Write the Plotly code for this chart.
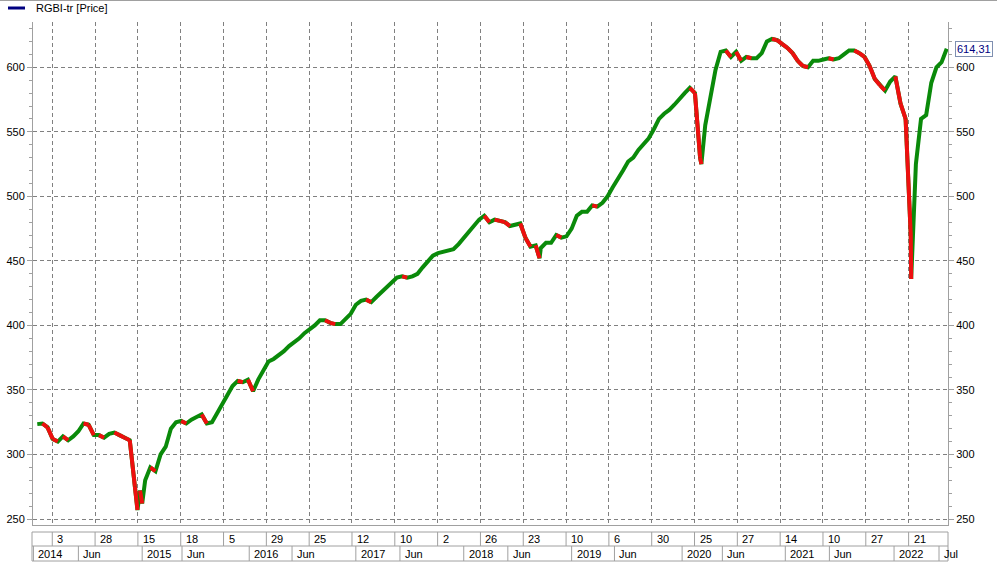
import plotly.graph_objects as go

# ---------------- data ----------------
# RGBI-tr closes, read every 12 trading bars (bar 0 = first bar, Jan 2014)
first_bar = 9
step = 12
close = [
    323.5, 324, 321, 312, 310, 314, 311, 314, 318, 324,
    323, 315, 315, 313, 316, 317, 315, 313, 311, 275,
    272, 280, 290, 287, 300, 306, 320, 325, 326, 324,
    327, 329, 331, 324, 325, 332, 339, 347, 353, 357,
    356, 358, 349, 358, 365, 372, 374, 377, 380, 384,
    387, 390, 394, 397, 400, 404, 404, 402, 401, 401,
    405, 409, 416, 419, 420, 418, 422, 426, 430, 434,
    437, 438, 437, 438, 440, 445, 450, 454, 456, 457,
    458, 459, 463, 468, 473, 478, 482, 485, 480, 482,
    481, 480, 477, 478, 479, 468, 461, 462, 460, 464,
    464, 470, 468, 469, 475, 485, 488, 488, 493, 492,
    495, 500, 507, 513, 520, 527, 530, 536, 541, 545,
    552, 560, 564, 567, 571, 576, 580, 584, 580, 530,
    555, 578, 598, 612, 613, 608, 612, 605, 608, 607,
    607, 611, 620, 622, 621, 618, 615, 611, 605, 601,
    600, 605, 605, 606, 607, 606, 607, 610, 613, 613,
    611, 608, 601, 591, 586, 582, 589, 593, 572, 560,
    470, 525, 560, 563, 588, 600, 604, 614.31,
]
bar = list(range(first_bar, first_bar + step * len(close), step))
# extreme daily lows: bar -> price
spike_bars = [243, 254, 1182, 1560, 2050]
spike_vals = [257, 262, 452, 525, 436]

# axis labels (bar-index axis: a tick every 100 trading bars)
tick_first = 44
tick_every = 100
tick_labels = ['3', '28', '15', '18', '5', '29', '25', '12', '10', '2', '26',
               '23', '10', '6', '30', '25', '27', '14', '10', '27', '21']
period_labels = ['2014', 'Jun', '2015', 'Jun', '2016', 'Jun', '2017', 'Jun', '2018',
                 'Jun', '2019', 'Jun', '2020', 'Jun', '2021', 'Jun', '2022', 'Jul']
period_bars = [0, 105, 254, 347, 504, 604, 753, 856, 1005, 1108, 1257, 1357,
               1515, 1609, 1756, 1859, 2010, 2115]
y_ticks = [250, 300, 350, 400, 450, 500, 550, 600]
series_name = 'RGBI-tr [Price]'
last_label = '614,31'

# ---------------- merge closes and spikes ----------------
pts = sorted(list(zip(bar, close)) + list(zip(spike_bars, spike_vals)))
px_ = [p[0] for p in pts]
pv_ = [p[1] for p in pts]
# falling segments drawn red over a green base line
fx, fy = [], []
for i in range(1, len(pts)):
    if pv_[i] < pv_[i - 1]:
        fx += [px_[i - 1], px_[i], None]
        fy += [pv_[i - 1], pv_[i], None]

tick_bars = [tick_first + tick_every * i for i in range(len(tick_labels))]

FONT = 'Liberation Sans'
GRID = '#808080'
FRAME = '#a0a0a0'
GREEN = '#0a8a0a'
RED = '#ee0f0f'
W, H = 997, 563
ML, MR, MT, MB = 33, 49, 22, 38
PW, PH = W - ML - MR, H - MT - MB


def py(px):  # pixel row -> paper y
    return (H - MB - px) / PH


def pxx(px):  # pixel column -> paper x
    return (px - ML) / PW


fig = go.Figure()
fig.add_trace(go.Scatter(x=px_, y=pv_, mode='lines', name=series_name,
                         line=dict(color=GREEN, width=4), hoverinfo='skip'))
fig.add_trace(go.Scatter(x=fx, y=fy, mode='lines', name=series_name,
                         line=dict(color=RED, width=4), hoverinfo='skip',
                         connectgaps=False))
fig.add_trace(go.Scatter(x=[bar[0]], y=[close[0]], yaxis='y2', mode='markers',
                         marker=dict(opacity=0), showlegend=False, hoverinfo='skip'))

yax = dict(
    range=[245.35, 635.1], tickmode='array', tickvals=y_ticks,
    ticks='outside', ticklen=5, tickcolor=FRAME, automargin=False,
    showline=True, linecolor=FRAME, linewidth=1,
    zeroline=False, fixedrange=True,
    minor=dict(tickmode='linear', tick0=0, dtick=10, ticks='outside',
               ticklen=3, tickcolor=FRAME, showgrid=False),
    tickfont=dict(family=FONT, size=11, color='black'),
)
fig.update_layout(
    width=W, height=H,
    margin=dict(l=ML, r=MR, t=MT, b=MB, autoexpand=False),
    paper_bgcolor='white', plot_bgcolor='white',
    showlegend=False, hovermode=False,
    xaxis=dict(
        range=[-1, 2136], tickmode='array', tickvals=tick_bars, automargin=False,
        showticklabels=False, ticks='', showgrid=True, gridcolor=GRID,
        griddash='4px,3px', gridwidth=1, zeroline=False,
        showline=True, linecolor=FRAME, fixedrange=True,
    ),
    yaxis=dict(yax, side='left', showgrid=True, gridcolor=GRID,
               griddash='4px,3px', gridwidth=1),
    yaxis2=dict(yax, side='right', overlaying='y', matches='y', showgrid=False),
)

shapes = []
line_c = dict(color=FRAME, width=1)
# header line and legend swatch
shapes.append(dict(type='line', xref='paper', yref='paper', x0=pxx(0), x1=pxx(W),
                   y0=py(0.5), y1=py(0.5), line=line_c))
shapes.append(dict(type='line', xref='paper', yref='paper', x0=pxx(8), x1=pxx(25),
                   y0=py(8), y1=py(8), line=dict(color='#000080', width=3)))
# bottom time-scale boxes
r1_top, r1_bot, r2_bot = py(532), py(546), py(561)
for yy in (r1_top, r1_bot, r2_bot):
    shapes.append(dict(type='line', xref='paper', yref='paper', x0=pxx(32), x1=pxx(948),
                       y0=yy, y1=yy, line=line_c))
for xx in (pxx(32), pxx(948)):
    shapes.append(dict(type='line', xref='paper', yref='paper', x0=xx, x1=xx,
                       y0=r1_top, y1=r2_bot, line=line_c))
for b in tick_bars:
    shapes.append(dict(type='line', xref='x', yref='paper', x0=b, x1=b,
                       y0=r1_top, y1=r1_bot, line=line_c))
for b in period_bars:
    shapes.append(dict(type='line', xref='x', yref='paper', x0=b, x1=b,
                       y0=r1_bot, y1=r2_bot, line=line_c))

ann = []
afont = dict(family=FONT, size=11, color='black')
for b, t in zip(tick_bars, tick_labels):
    ann.append(dict(x=b, y=(r1_top + r1_bot) / 2, xref='x', yref='paper', text=t,
                    showarrow=False, xanchor='left', yanchor='middle', xshift=3, font=afont))
for b, t in zip(period_bars, period_labels):
    ann.append(dict(x=b, y=(r1_bot + r2_bot) / 2, xref='x', yref='paper', text=t,
                    showarrow=False, xanchor='left', yanchor='middle', xshift=3, font=afont))
ann.append(dict(x=pxx(34), y=py(8), xref='paper', yref='paper', text=series_name,
                showarrow=False, xanchor='left', yanchor='middle', font=afont))
ann.append(dict(x=pxx(955), y=close[-1], xref='paper', yref='y', text=last_label,
                showarrow=False, xanchor='left', yanchor='middle',
                font=dict(family=FONT, size=11, color='#000080'),
                bordercolor='#7f8fb0', borderwidth=1, borderpad=1, bgcolor='white'))

fig.update_layout(shapes=shapes, annotations=ann)
fig.write_html('out.html', config={'displayModeBar': False},
               post_script="document.body.style.margin='0';"
                           "document.body.style.overflow='hidden';")
